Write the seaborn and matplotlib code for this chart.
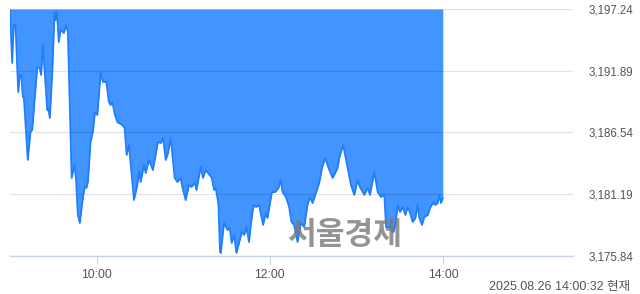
import matplotlib
matplotlib.use("Agg")
import matplotlib.pyplot as plt
import seaborn as sns
import pandas as pd

# minutes after 09:00
minutes = [0, 1.5, 2.6, 3.8, 5.7, 6.8, 7.8, 8.9, 9.6, 12.3, 14.2, 15.4, 18.9, 20.5, 21.6, 22.8,
           25.8, 26.5, 27.6, 29.3, 30.9, 31.6, 32.5, 33.8, 35.0, 37.3, 39.0, 40.1, 42.7, 44.7,
           45.8, 47.0, 48.4, 50.1, 51.7, 52.9, 54.0, 55.8, 57.4, 58.8, 60.5, 62.8, 64.4, 66.7,
           68.5, 69.7, 70.9, 72.7, 74.4, 77.8, 79.4, 80.8, 82.4, 85.9, 88.2, 89.3, 90.5, 92.8,
           94.0, 96.3, 99.0, 102.5, 104.4, 106.0, 107.9, 109.5, 111.3, 114.1, 116.0, 118.3,
           119.4, 121.7, 124.0, 125.7, 128.0, 129.2, 132.1, 133.7, 135.6, 139.8, 141.4, 142.5,
           143.7, 144.4, 145.5, 146.0, 148.3, 150.7, 152.2, 153.6, 155.2, 156.9, 158.3, 160.6,
           162.2, 163.8, 165.6, 166.8, 168.7, 170.3, 172.6, 175.3, 177.2, 178.4, 181.4, 183.7,
           186.0, 187.6, 188.8, 191.1, 193.4, 195.0, 196.8, 199.2, 201.5, 203.8, 206.1, 207.7,
           209.6, 211.9, 214.2, 216.1, 218.3, 220.7, 223.5, 225.3, 226.9, 228.1, 230.8, 233.9,
           236.2, 238.5, 240.8, 242.4, 245.4, 247.8, 249.4, 252.4, 254.7, 257.0, 259.3, 260.5,
           262.8, 264.0, 265.6, 267.0, 268.6, 270.2, 272.0, 273.9, 275.5, 277.1, 279.0, 280.8,
           282.4, 283.6, 285.4, 287.0, 289.4, 291.0, 292.9, 294.7, 296.3, 297.4, 298.6, 299.8]

index_values = [3197.15, 3192.56, 3195.85, 3195.85, 3190.05, 3191.52, 3191.52, 3189.62, 3189.62,
                3184.16, 3186.58, 3186.76, 3192.21, 3192.13, 3191.52, 3194.12, 3188.49, 3188.66,
                3187.80, 3191.78, 3196.98, 3196.29, 3196.98, 3194.38, 3195.42, 3195.16, 3195.85,
                3195.25, 3182.60, 3183.72, 3182.42, 3179.39, 3178.70, 3180.52, 3181.82, 3181.73,
                3182.25, 3185.72, 3186.58, 3188.23, 3188.06, 3191.70, 3190.92, 3190.92, 3189.18,
                3188.92, 3189.18, 3188.06, 3187.45, 3187.19, 3186.93, 3184.59, 3185.46, 3180.69,
                3181.99, 3183.12, 3182.25, 3183.72, 3183.03, 3184.16, 3183.29, 3185.72, 3185.63,
                3186.06, 3184.16, 3184.76, 3186.06, 3182.60, 3182.25, 3182.60, 3181.82, 3180.69,
                3181.99, 3181.82, 3182.16, 3181.56, 3183.55, 3182.60, 3183.29, 3182.60, 3181.56,
                3181.73, 3180.87, 3180.26, 3176.19, 3176.10, 3178.70, 3178.09, 3178.27, 3176.97,
                3177.66, 3176.10, 3176.79, 3177.92, 3177.66, 3178.27, 3177.05, 3178.53, 3180.26,
                3180.08, 3180.26, 3178.53, 3179.57, 3179.13, 3181.38, 3181.38, 3181.73, 3182.42,
                3181.38, 3180.95, 3180.08, 3178.79, 3178.53, 3177.05, 3178.70, 3178.35, 3180.26,
                3180.95, 3180.43, 3181.30, 3182.16, 3183.46, 3184.33, 3183.46, 3182.60, 3183.03,
                3183.46, 3184.33, 3185.46, 3183.46, 3181.99, 3181.13, 3182.42, 3181.82, 3181.13,
                3181.73, 3181.13, 3183.12, 3181.38, 3180.95, 3181.13, 3178.35, 3178.35, 3178.09,
                3177.92, 3178.53, 3180.26, 3179.65, 3180.08, 3179.39, 3180.08, 3179.57, 3178.79,
                3179.13, 3180.26, 3179.13, 3178.53, 3179.22, 3179.39, 3180.00, 3180.43, 3180.26,
                3180.43, 3181.13, 3180.43, 3180.87]

y_ticks = [3175.84, 3181.19, 3186.54, 3191.89, 3197.24]
x_tick_minutes = [60, 180, 300]
x_tick_labels = ["10:00", "12:00", "14:00"]
stamp_text = "2025.08.26 14:00:32 현재"
watermark_text = "서울경제"

df = pd.DataFrame({"minute": minutes, "value": index_values})

sns.set_style("white")
plt.rcParams["font.family"] = ["Liberation Sans", "Noto Sans CJK KR"]

fig = plt.figure(figsize=(6.4, 2.94), dpi=100)
ax = fig.add_axes([10 / 640, 1 - 256 / 294, 563 / 640, 247 / 294])

fill_color = "#4294ff"
line_color = "#1f7dff"

ax.fill_between(df["minute"], df["value"], y_ticks[-1], color=fill_color, linewidth=0, zorder=2)
sns.lineplot(data=df, x="minute", y="value", ax=ax, color=line_color, linewidth=1.3, zorder=3)

ax.set_xlim(0, 390)
ax.set_ylim(y_ticks[0], y_ticks[-1])

ax.set_yticks(y_ticks)
ax.set_yticklabels([f"{v:,.2f}" for v in y_ticks])
ax.yaxis.tick_right()
ax.tick_params(axis="y", length=0, pad=11, labelsize=8.3, labelcolor="#555555")

ax.set_xticks(x_tick_minutes)
ax.set_xticklabels(x_tick_labels)
ax.tick_params(axis="x", bottom=True, length=6, width=0.8, color="#c8d3e8", pad=3,
               labelsize=8.8, labelcolor="#555555")

ax.grid(axis="y", color="black", alpha=0.11, linewidth=0.9)
ax.grid(axis="x", visible=False)
ax.set_axisbelow(False)
for side in ["top", "right", "left"]:
    ax.spines[side].set_visible(False)
ax.spines["bottom"].set_color("#c8d3e8")
ax.spines["bottom"].set_linewidth(1.0)
ax.set_xlabel("")
ax.set_ylabel("")

fig.text(345 / 640, 1 - 235 / 294, watermark_text, ha="center", va="center",
         fontsize=22.5, fontweight="bold", color="#7a7a7a", alpha=0.8,
         family=["Noto Sans CJK KR"], zorder=10)

fig.text(630 / 640, 1 - 287 / 294, stamp_text, ha="right", va="center",
         fontsize=9, color="#555555", family=["Liberation Sans", "Noto Sans CJK KR"])

fig.savefig("out.png", dpi=100)
